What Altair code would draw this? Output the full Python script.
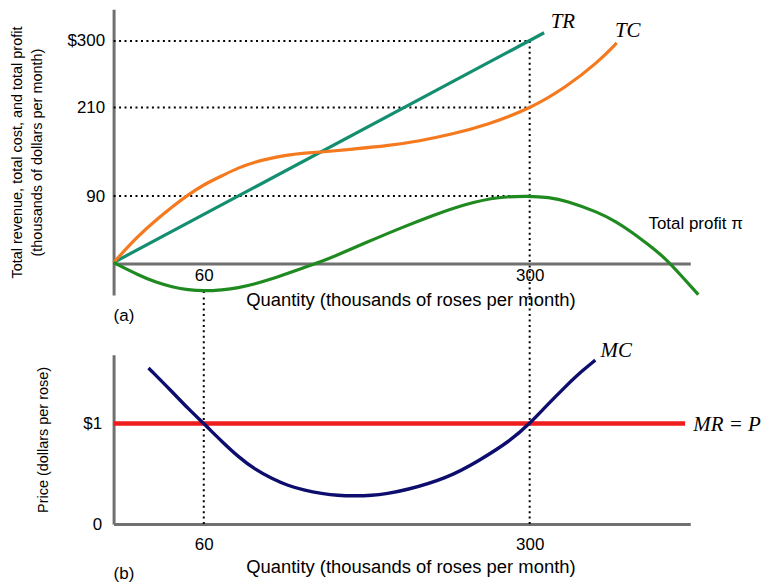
import altair as alt
import pandas as pd

# ---------------- Panel (a): thousands of dollars per month ----------------
tr_quantity = [0, 311]
tr_revenue = [0, 311]

tc_quantity = [0, 15.5, 26.7, 38.2, 49.2, 61.0, 72.9, 84.3, 96.4, 108.5, 120.0, 132.4,
               144.7, 167.4, 192.4, 216.9, 241.6, 267.0, 300.0, 327.4, 352.5, 366.4]
tc_cost = [0, 36.7, 56.8, 75.6, 91.8, 106.6, 117.4, 128.2, 136.3, 141.5, 145.5, 148.2,
           149.5, 153.6, 157.7, 164.4, 173.8, 185.8, 208.0, 236.9, 271.8, 297.3]

profit_quantity = [0, 15.5, 26.7, 38.2, 49.2, 60.0, 72.9, 84.3, 96.4, 108.5, 120.0, 132.4,
                   144.7, 154.2, 177.7, 202.1, 226.6, 252.0, 276.8, 300.0, 314.5, 327.4,
                   352.5, 365.5, 377.7, 390.8, 403.5, 415.7, 429.2]
profit_value = [0, -17.1, -26.5, -33.2, -37.2, -38.6, -37.2, -34.5, -29.0, -22.3, -14.5, -6.5,
                1.5, 8.5, 27.3, 46.1, 63.5, 79.7, 89.1, 90.0, 88.3, 84.0,
                67.9, 55.6, 41.6, 24.0, 6.3, -17.2, -43.5]

ref_levels = [300, 210, 90]          # dotted horizontal guides
ref_quantities = [60, 300]           # dotted vertical guides
profit_min_value = -38.6

# ---------------- Panel (b): dollars per rose ----------------
mc_quantity = [22.1, 38.2, 49.2, 60.0, 72.9, 84.3, 96.4, 108.5, 120.0, 132.4, 144.7, 156.4,
               168.9, 181.4, 193.2, 205.8, 237.1, 261.8, 286.6, 300.0, 312.3, 327.4, 339.6, 350.0]
mc_cost = [1.552, 1.314, 1.146, 1.0, 0.818, 0.670, 0.542, 0.452, 0.383, 0.334, 0.304, 0.284,
           0.280, 0.284, 0.304, 0.334, 0.452, 0.630, 0.840, 1.0, 1.170, 1.370, 1.520, 1.630]
price = 1.0
mr_end_quantity = 419

# ---------------- styling ----------------
FONT = "Liberation Sans"
SERIF = "Liberation Serif"
AXIS_GRAY = "#707070"
C_TR = "#138f6f"
C_TC = "#f57a1f"
C_PROFIT = "#1f8a1f"
C_MC = "#0d0d6e"
C_MR = "#ee1c1c"
DOT = [2, 3.5]

W = 579
H_TOP = 287
H_BOT = 170

xs = alt.Scale(type="pow", exponent=0.95, domain=[0, 423], nice=False, zero=False)
ys_top = alt.Scale(domain=[-44, 343], nice=False, zero=False)
ys_bot = alt.Scale(domain=[0, 1.683], nice=False, zero=False)

ax_top_x = alt.Axis(values=ref_quantities, offset=-31.7, ticks=False, grid=False,
                    domainColor=AXIS_GRAY, domainWidth=3, labelPadding=4, labelFlush=False,
                    labelFontSize=17, labelFont=FONT, labelColor="black",
                    title="Quantity (thousands of roses per month)", titleFontSize=18.5,
                    titleFont=FONT, titleFontWeight="normal", titleColor="black",
                    titlePadding=7, titleX=298)
ax_top_y = alt.Axis(values=ref_levels,
                    labelExpr="datum.value == 300 ? '$300' : format(datum.value, 'd')",
                    ticks=False, grid=False, domainColor=AXIS_GRAY, domainWidth=3,
                    labelPadding=9, labelFontSize=17, labelFont=FONT, labelColor="black",
                    title=["Total revenue, total cost, and total profit",
                           "(thousands of dollars per month)"],
                    titleFontSize=14.5, titleFont=FONT, titleFontWeight="normal",
                    titleColor="black", titlePadding=23, titleLineHeight=20)

x_top = alt.X("q:Q", scale=xs, axis=ax_top_x)
y_top = alt.Y("v:Q", scale=ys_top, axis=ax_top_y)

hdots = alt.Chart(pd.DataFrame({"q": [0] * 3, "q2": [300] * 3, "v": ref_levels})).mark_rule(
    color="black", strokeWidth=2, strokeDash=DOT).encode(x=x_top, x2="q2", y=y_top)
vdots_top = alt.Chart(pd.DataFrame({"q": ref_quantities, "v": [profit_min_value, 300],
                                    "v2": [-44, -44]})).mark_rule(
    color="black", strokeWidth=2, strokeDash=DOT).encode(x=x_top, y=y_top, y2="v2")

tr = alt.Chart(pd.DataFrame({"q": tr_quantity, "v": tr_revenue})).mark_line(
    color=C_TR, strokeWidth=3.2).encode(x=x_top, y=y_top)
tc = alt.Chart(pd.DataFrame({"q": tc_quantity, "v": tc_cost})).mark_line(
    color=C_TC, strokeWidth=3.2, interpolate="basis").encode(x=x_top, y=y_top)
pf = alt.Chart(pd.DataFrame({"q": profit_quantity, "v": profit_value})).mark_line(
    color=C_PROFIT, strokeWidth=3.2, interpolate="basis").encode(x=x_top, y=y_top)

serif_top = alt.Chart(pd.DataFrame({"q": [316, 365], "v": [325.5, 313], "t": ["TR", "TC"]})).mark_text(
    font=SERIF, fontStyle="italic", fontSize=21, align="left", baseline="middle", color="black"
).encode(x=x_top, y=y_top, text="t:N")
sans_top = alt.Chart(pd.DataFrame({"q": [390.8, 0], "v": [51.5, -72], "t": ["Total profit π", "(a)"]})).mark_text(
    font=FONT, fontSize=17, align="left", baseline="middle", color="black"
).encode(x=x_top, y=y_top, text="t:N")

top = alt.layer(hdots, vdots_top, tr, tc, pf, serif_top, sans_top).properties(width=W, height=H_TOP)

# ---------------- bottom panel ----------------
ax_bot_x = alt.Axis(values=ref_quantities, ticks=False, grid=False,
                    domainColor=AXIS_GRAY, domainWidth=3, labelPadding=13, labelFlush=False,
                    labelFontSize=17, labelFont=FONT, labelColor="black",
                    title="Quantity (thousands of roses per month)", titleFontSize=18.5,
                    titleFont=FONT, titleFontWeight="normal", titleColor="black",
                    titlePadding=5, titleX=298)
ax_bot_y = alt.Axis(values=[0, 1], labelExpr="datum.value == 1 ? '$1' : '0'",
                    ticks=False, grid=False, domainColor=AXIS_GRAY, domainWidth=3,
                    labelPadding=12, labelFontSize=17, labelFont=FONT, labelColor="black",
                    title="Price (dollars per rose)", titleFontSize=14.5, titleFont=FONT,
                    titleFontWeight="normal", titleColor="black", titlePadding=32)

x_bot = alt.X("q:Q", scale=xs, axis=ax_bot_x)
y_bot = alt.Y("p:Q", scale=ys_bot, axis=ax_bot_y)

vdots_bot = alt.Chart(pd.DataFrame({"q": ref_quantities, "p": [0, 0], "p2": [2.28, 2.28]})).mark_rule(
    color="black", strokeWidth=2, strokeDash=DOT).encode(x=x_bot, y=y_bot, y2="p2")
mr = alt.Chart(pd.DataFrame({"q": [0], "q2": [mr_end_quantity], "p": [price]})).mark_rule(
    color=C_MR, strokeWidth=4.5).encode(x=x_bot, x2="q2", y=y_bot)
mc = alt.Chart(pd.DataFrame({"q": mc_quantity, "p": mc_cost})).mark_line(
    color=C_MC, strokeWidth=3.4, interpolate="basis").encode(x=x_bot, y=y_bot)

serif_bot = alt.Chart(pd.DataFrame({"q": [354, 425.3], "p": [1.72, 0.98], "t": ["MC", "MR = P"]})).mark_text(
    font=SERIF, fontStyle="italic", fontSize=21, align="left", baseline="middle", color="black"
).encode(x=x_bot, y=y_bot, text="t:N")
sans_bot = alt.Chart(pd.DataFrame({"q": [0], "p": [-0.5], "t": ["(b)"]})).mark_text(
    font=FONT, fontSize=17, align="left", baseline="middle", color="black"
).encode(x=x_bot, y=y_bot, text="t:N")

bottom = alt.layer(vdots_bot, mr, mc, serif_bot, sans_bot).properties(width=W, height=H_BOT)

chart = alt.vconcat(top, bottom, spacing=60, bounds="flush").properties(
    padding={"left": 1, "top": 0, "right": 0, "bottom": 0},
    background="white",
).configure_view(stroke=None)

chart.save("out.html", embed_options={"renderer": "svg", "actions": False})
